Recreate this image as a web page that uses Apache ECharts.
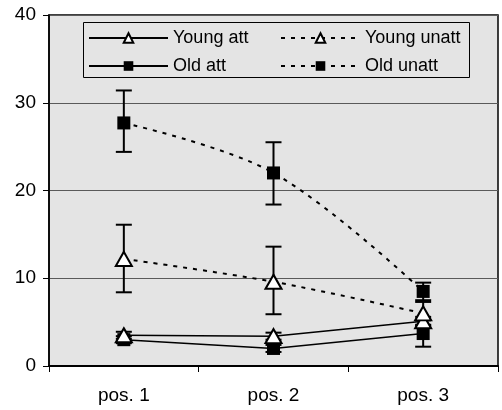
<!DOCTYPE html>
<html>
<head>
<meta charset="utf-8">
<script src="https://cdn.jsdelivr.net/npm/echarts@6/dist/echarts.min.js"></script>
<style>html,body{margin:0;padding:0;background:#fff}#c{width:502px;height:410px}</style>
</head>
<body>
<div id="c"></div>
<script>
const categories = ['pos. 1', 'pos. 2', 'pos. 3'];
const yTicks = [0, 10, 20, 30, 40];
const youngAtt = [3.5, 3.4, 5.1];
const oldAtt = [3.0, 2.0, 3.7];
const youngUnatt = [12.2, 9.6, 6.0];
const oldUnatt = [27.7, 22.0, 8.5];
const youngAttLow = [3.1, 3.0, 4.6];
const youngAttHigh = [3.9, 3.8, 5.6];
const oldAttLow = [2.6, 1.6, 2.2];
const oldAttHigh = [3.4, 2.4, 5.2];
const youngUnattLow = [8.4, 5.9, 4.7];
const youngUnattHigh = [16.1, 13.6, 7.3];
const oldUnattLow = [24.4, 18.4, 7.5];
const oldUnattHigh = [31.4, 25.5, 9.5];

function errData(low, high) {
  return low.map((l, i) => [i, l, high[i]]);
}
function errSeries(low, high) {
  return {
    type: 'custom', z: 1, silent: true,
    data: errData(low, high),
    renderItem: function (params, api) {
      const x = api.value(0);
      const p1 = api.coord([x, api.value(1)]);
      const p2 = api.coord([x, api.value(2)]);
      const w = 8;
      const st = { stroke: '#000', lineWidth: 2 };
      return { type: 'group', children: [
        { type: 'line', shape: { x1: p1[0], y1: p1[1], x2: p2[0], y2: p2[1] }, style: st },
        { type: 'line', shape: { x1: p1[0] - w, y1: p1[1], x2: p1[0] + w, y2: p1[1] }, style: st },
        { type: 'line', shape: { x1: p2[0] - w, y1: p2[1], x2: p2[0] + w, y2: p2[1] }, style: st }
      ]};
    }
  };
}
const tri = { symbol: 'triangle', symbolSize: [16, 14], itemStyle: { color: '#fff', borderColor: '#000', borderWidth: 2 } };
const sq = { symbol: 'rect', symbolSize: 13, itemStyle: { color: '#000', borderColor: '#000', borderWidth: 0 } };
const dash = [4, 6];
const FONT = 'Liberation Sans, Arial, sans-serif';

const chart = echarts.init(document.getElementById('c'), null, { renderer: 'canvas' });
chart.setOption({
  animation: false,
  backgroundColor: '#fff',
  textStyle: { fontFamily: FONT, color: '#000' },
  grid: { left: 49, right: 4, top: 15, bottom: 44, show: true, backgroundColor: '#e4e4e4', borderColor: '#000', borderWidth: 1.5 },
  graphic: [{ type: 'rect', shape: { x: 83.5, y: 22.5, width: 386, height: 55 }, style: { fill: 'none', stroke: '#000', lineWidth: 1 }, z: 10 }],
  legend: [
    { data: ['Young att', 'Old att'], orient: 'vertical', left: 88, top: 29, padding: 0, itemWidth: 79, itemHeight: 12, itemGap: 10,
      textStyle: { fontSize: 18, fontFamily: FONT, color: '#000' } },
    { data: ['Young unatt', 'Old unatt'], orient: 'vertical', left: 280, top: 29, padding: 0, itemWidth: 79, itemHeight: 12, itemGap: 10,
      textStyle: { fontSize: 18, fontFamily: FONT, color: '#000' } }
  ],
  xAxis: {
    type: 'category', data: categories, boundaryGap: true,
    axisLine: { lineStyle: { color: '#000', width: 2 } },
    axisTick: { show: true, length: 6, lineStyle: { color: '#000', width: 1 } },
    axisLabel: { fontSize: 19, color: '#000', margin: 20 }
  },
  yAxis: {
    type: 'value', min: 0, max: 40, interval: 10,
    axisLine: { show: true, lineStyle: { color: '#000', width: 1.5 } },
    axisTick: { show: true, length: 6, lineStyle: { color: '#000' } },
    axisLabel: { fontSize: 19, color: '#000', margin: 13, formatter: v => yTicks.includes(v) ? String(v) : '' },
    splitLine: { show: true, lineStyle: { color: '#5a5a5a', width: 1 } }
  },
  series: [
    Object.assign({ name: 'Young att', type: 'line', data: youngAtt, z: 3, lineStyle: { color: '#000', width: 1.5, type: 'solid' } }, tri),
    Object.assign({ name: 'Old att', type: 'line', data: oldAtt, z: 2, lineStyle: { color: '#000', width: 1.5, type: 'solid' } }, sq),
    Object.assign({ name: 'Young unatt', type: 'line', data: youngUnatt, z: 3, smooth: 0.35, lineStyle: { color: '#000', width: 2, type: dash } }, tri),
    Object.assign({ name: 'Old unatt', type: 'line', data: oldUnatt, z: 2, smooth: 0.35, lineStyle: { color: '#000', width: 2, type: dash } }, sq),
    errSeries(youngAttLow, youngAttHigh),
    errSeries(oldAttLow, oldAttHigh),
    errSeries(youngUnattLow, youngUnattHigh),
    errSeries(oldUnattLow, oldUnattHigh)
  ]
});
</script>
</body>
</html>
